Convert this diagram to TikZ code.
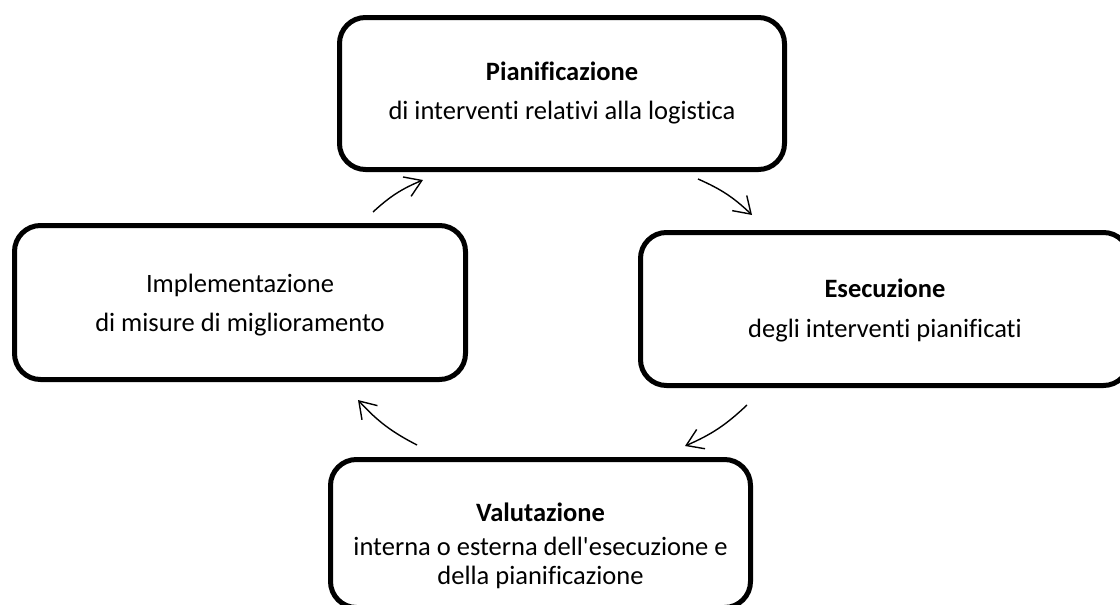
\documentclass[tikz,border=0pt]{standalone}
\usepackage{fontspec}
\setmainfont{Carlito}[Ligatures={TeXOff,NoCommon}]
\usetikzlibrary{arrows.meta}
\begin{document}
\begin{tikzpicture}[x=1pt,y=1pt,
  box/.style={draw=black, line width=5pt, rounded corners=26pt, inner sep=0pt},
  head/.style={font=\fontsize{26.5}{32}\selectfont\bfseries, inner sep=0pt, anchor=base},
  body/.style={font=\fontsize{26.5}{32}\selectfont, inner sep=0pt, anchor=base},
  conn/.style={line width=1.4pt, -{Straight Barb[length=16pt,width=21pt,line width=1.4pt]}}]
\useasboundingbox (0,0) rectangle (1120,-605);
\clip (0,0) rectangle (1120,-605);
% boxes
\node[box, minimum width=445pt, minimum height=152pt] (plan) at (562,-93.5) {};
\node[box, minimum width=451pt, minimum height=154pt] (impl) at (240,-302.5) {};
\node[box, minimum width=489pt, minimum height=153pt] (esec) at (885,-309) {};
\node[box, minimum width=420pt, minimum height=148pt] (valu) at (540.5,-533.5) {};
% texts
\node[head] (planh) at (562,-80) {Pianificazione};
\node[body] (planb) at (562,-119) {di interventi relativi alla logistica};
\node[body] (implh) at (240,-292) {Implementazione};
\node[body] (implb) at (240,-331) {di misure di miglioramento};
\node[head] (esech) at (885,-297) {Esecuzione};
\node[body] (esecb) at (885,-337) {degli interventi pianificati};
\node[head] (valuh) at (540.5,-521) {Valutazione};
\node[body] (valub) at (540.5,-555) {interna o esterna dell'esecuzione e};
\node[body] (valuc) at (540.5,-584) {della pianificazione};
% connectors
\coordinate (a1s) at (373,-212); \coordinate (a1e) at (423,-180);
\coordinate (a2s) at (698,-179); \coordinate (a2e) at (752,-215);
\coordinate (a3s) at (747,-405); \coordinate (a3e) at (685,-446);
\coordinate (a4s) at (417,-445); \coordinate (a4e) at (358,-400);
\draw[conn] (a1s) to[bend left=10] (a1e);
\draw[conn] (a2s) to[bend left=10] (a2e);
\draw[conn] (a3s) to[bend left=10] (a3e);
\draw[conn] (a4s) to[bend left=10] (a4e);
\end{tikzpicture}
\end{document}
